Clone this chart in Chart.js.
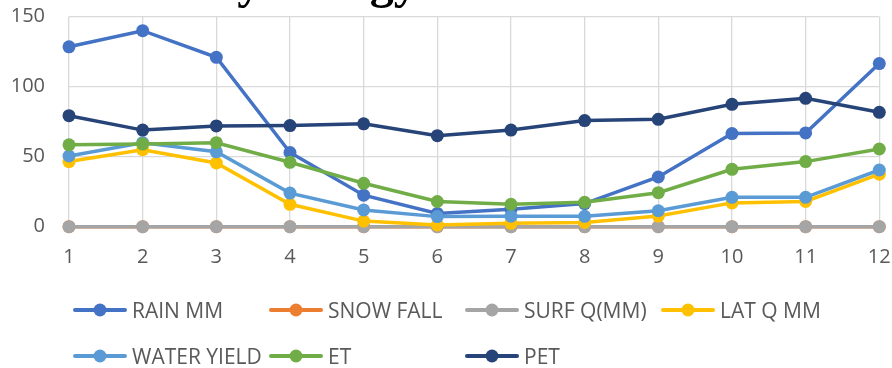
<!DOCTYPE html>
<html>
<head>
<meta charset="utf-8">
<script src="https://cdn.jsdelivr.net/npm/chart.js@4.4.1/dist/chart.umd.min.js"></script>
<style>
  html, body { margin: 0; padding: 0; background: #fff; }
  #wrap { position: relative; width: 892px; height: 368px; overflow: hidden; }
  #chart { position: absolute; left: 0; top: 0; }
  #legend { position: absolute; left: 0; top: 0; width: 892px; height: 368px; }
  .entry { position: absolute; display: flex; align-items: center; height: 24px;
           font-family: "Open Sans", sans-serif; font-size: 21px; color: #595959; white-space: nowrap; }
  .entry canvas { display: block; margin-right: 5px; }
</style>
</head>
<body>
<div id="wrap">
  <canvas id="chart" width="892" height="368"></canvas>
  <div id="legend"></div>
</div>
<script>
// Month numbers on the category axis
const months = ['1', '2', '3', '4', '5', '6', '7', '8', '9', '10', '11', '12'];

// Monthly water balance components
const rainMm      = [128.5, 140, 121, 53, 22.5, 9.5, 12.5, 16.5, 35.5, 66.5, 67, 116.5];
const snowFall    = [0, 0, 0, 0, 0, 0, 0, 0, 0, 0, 0, 0];
const surfQ       = [0, 0, 0, 0, 0, 0, 0, 0, 0, 0, 0, 0];
const latQMm      = [46.5, 55, 45.5, 16, 4, 1.2, 2.4, 3, 7.6, 17, 18, 37.5];
const waterYield  = [50.5, 60, 53.5, 24, 12, 7.2, 7.5, 7.4, 11.4, 21, 21, 40.5];
const et          = [58.5, 59, 60, 46, 31, 18, 16, 17.4, 24.3, 41, 46.5, 55.5];
const pet         = [79.3, 69, 72, 72.2, 73.5, 65, 69, 75.8, 76.7, 87.4, 91.7, 81.7];

const seriesNames = ['RAIN MM', 'SNOW FALL', 'SURF Q(MM)', 'LAT Q MM', 'WATER YIELD', 'ET', 'PET'];
const seriesData  = [rainMm, snowFall, surfQ, latQMm, waterYield, et, pet];
const yTicks = [0, 50, 100, 150];

const palette = ['#4472C4', '#ED7D31', '#A5A5A5', '#FFC000', '#5B9BD5', '#70AD47', '#264478'];
const gridColor = '#D9D9D9';
const tickColor = '#595959';
const tickFont = { family: '"Open Sans", sans-serif', size: 20 };

const titleText = 'Hydrology';

// Bold serif heading sitting at the very top edge of the canvas
const headingPlugin = {
  id: 'heading',
  afterDraw(chart) {
    const ctx = chart.ctx;
    ctx.save();
    ctx.font = 'bold 48px "Liberation Serif", "Times New Roman", serif';
    ctx.fillStyle = '#000';
    ctx.textAlign = 'left';
    ctx.textBaseline = 'alphabetic';
    ctx.fillText(titleText, 200, -2);
    ctx.restore();
  }
};

const datasets = seriesNames.map((name, i) => ({
  label: name,
  data: seriesData[i],
  borderColor: palette[i],
  backgroundColor: palette[i],
  pointBackgroundColor: palette[i],
  pointBorderColor: palette[i],
  pointBorderWidth: 0,
  pointRadius: 6.5,
  pointHoverRadius: 6.5,
  borderWidth: 3.5,
  tension: 0,
  fill: false,
  clip: false,
  order: seriesNames.length - 1 - i   // later series drawn on top
}));

const chart = new Chart(document.getElementById('chart'), {
  type: 'line',
  data: { labels: months, datasets },
  plugins: [headingPlugin],
  options: {
    responsive: false,
    animation: false,
    devicePixelRatio: 1,
    layout: { padding: { left: 0, right: 12.7, top: 16.7, bottom: 101.3 } },
    plugins: { legend: { display: false }, tooltip: { enabled: false }, title: { display: false } },
    scales: {
      x: {
        offset: false,
        grid: { color: gridColor, lineWidth: 1.3, drawTicks: false },
        border: { color: gridColor, width: 1.3 },
        ticks: { color: tickColor, font: tickFont, padding: 19, maxRotation: 0, autoSkip: false },
        afterFit(scale) {
          scale.height = 40;
          scale.paddingLeft = 0;
          scale.paddingRight = 0;
        }
      },
      y: {
        min: 0,
        max: 150,
        afterBuildTicks(scale) { scale.ticks = yTicks.map(v => ({ value: v })); },
        grid: { color: gridColor, lineWidth: 1.3, drawTicks: false },
        border: { display: false },
        ticks: { color: tickColor, font: tickFont, padding: 24 },
        afterFit(scale) {
          scale.width = 69;
          scale.paddingTop = 0;
          scale.paddingBottom = 0;
        }
      }
    }
  }
});

// Legend laid out as a grid of line-and-dot entries
function buildLegend() {
  const host = document.getElementById('legend');
  const colX = [73, 269, 465, 661];
  const rowY = [298, 344];
  chart.data.datasets.forEach((ds, i) => {
    const entry = document.createElement('div');
    entry.className = 'entry';
    entry.style.left = colX[i % 4] + 'px';
    entry.style.top = rowY[Math.floor(i / 4)] + 'px';
    const mark = document.createElement('canvas');
    mark.width = 54; mark.height = 16;
    const c = mark.getContext('2d');
    c.strokeStyle = ds.borderColor; c.lineWidth = 4; c.lineCap = 'round';
    c.beginPath(); c.moveTo(2, 8); c.lineTo(52, 8); c.stroke();
    c.fillStyle = ds.borderColor;
    c.beginPath(); c.arc(27, 8, 6.5, 0, Math.PI * 2); c.fill();
    entry.appendChild(mark);
    const label = document.createElement('span');
    label.textContent = ds.label;
    entry.appendChild(label);
    host.appendChild(entry);
  });
}
buildLegend();
</script>
</body>
</html>
